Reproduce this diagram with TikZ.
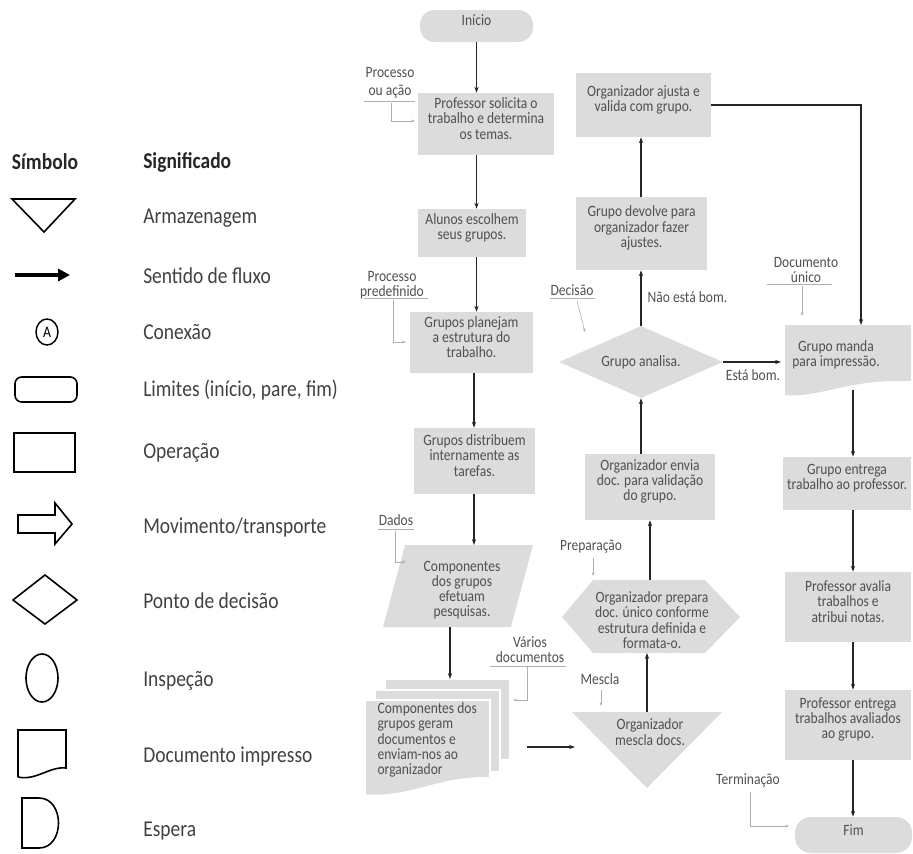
\documentclass[tikz,border=0pt]{standalone}
\usepackage{fontspec}
\setmainfont[FakeStretch=0.86]{Carlito}
\usetikzlibrary{arrows.meta,fit,shapes.geometric}
\definecolor{boxgray}{RGB}{220,220,220}
\definecolor{txtc}{RGB}{80,80,80}
\definecolor{legc}{RGB}{65,65,65}
\definecolor{annc}{RGB}{175,175,175}
\newcommand{\flowfont}{\fontsize{11.8}{11.4}\selectfont}
\newcommand{\legfont}{\fontsize{17}{18}\selectfont}
\tikzset{
  box/.style={fill=boxgray, draw=none, inner sep=0pt, text=txtc, font=\flowfont, align=center},
  lbl/.style={text=txtc, font=\flowfont, align=center, inner sep=1pt},
  arr/.style={draw=black!85, line width=0.8pt, -{Stealth[length=4.5pt,width=3.2pt]}},
  ann/.style={draw=annc, line width=0.45pt, -{Stealth[length=3pt,width=2.2pt]}},
  annl/.style={draw=annc, line width=0.45pt},
  legshape/.style={draw=black, line width=1.2pt},
  legtxt/.style={anchor=west, text=legc, font=\legfont, inner sep=0pt},
  leghead/.style={text=black!85, font=\legfont\bfseries, inner sep=0pt},
  docpart/.style={fill=boxgray, draw=white, line width=1.2pt}
}
\begin{document}
\begin{tikzpicture}[x=0.75pt,y=-0.75pt]
\useasboundingbox (0,0) rectangle (913,853);

% ---------------- Legend ----------------
\node[leghead] (hsym) at (45,162) {Símbolo};
\node[leghead, anchor=west] (hsig) at (143,162) {Significado};

\draw[legshape] (12,199) -- (75,199) -- (44,232) -- cycle;
\node[legtxt] (l1) at (143,218) {Armazenagem};

\coordinate (fa) at (15,275);
\coordinate (fb) at (70,275);
\draw[line width=2.3pt, -{Triangle[length=9pt,width=9pt]}] (fa) -- (fb);
\node[legtxt] (l2) at (143,276) {Sentido de fluxo};

\node[draw=black, line width=1.1pt, ellipse, minimum width=16.5pt, minimum height=19.5pt, inner sep=0pt, font=\fontsize{12}{12}\selectfont] (conA) at (47,332) {A};
\node[legtxt] (l3) at (143,332) {Conexão};

\draw[legshape, rounded corners=5pt] (15,377) rectangle (77,402);
\node[legtxt] (l4) at (143,390) {Limites (início, pare, fim)};

\draw[legshape] (14,433) rectangle (75,472);
\node[legtxt] (l5) at (143,453) {Operação};

\draw[legshape] (18,515) -- (55,515) -- (55,503) -- (72,524) -- (55,544) -- (55,533) -- (18,533) -- cycle;
\node[legtxt] (l6) at (143,527) {Movimento/transporte};

\draw[legshape] (13,600) -- (45,575) -- (77,600) -- (45,624) -- cycle;
\node[legtxt] (l7) at (143,601) {Ponto de decisão};

\draw[legshape] (42,678) ellipse [x radius=16, y radius=24];
\node[legtxt] (l8) at (143,681) {Inspeção};

\draw[legshape] (18,777) -- (18,730) -- (66,730) -- (66,768) .. controls (50,766) and (36,781) .. (18,777);
\node[legtxt] (l9) at (143,757) {Documento impresso};

\draw[legshape] (22,798) -- (39,798) .. controls (65,798) and (65,848) .. (39,848) -- (22,848) -- cycle;
\node[legtxt] (l10) at (143,831) {Espera};

% ---------------- Flowchart: left column ----------------
\node[box, fit={(420,10) (533,42)}, rounded corners=11pt] (ini) {Início};
\node[box, fit={(418,93) (554,155)}] (b1) {Professor solicita o\\trabalho e determina\\os temas.};
\node[box, fit={(418,209) (526,257)}] (b2) {Alunos escolhem\\seus grupos.};
\node[box, fit={(410,312) (533,373)}] (b3) {Grupos planejam\\a estrutura do\\trabalho.};
\node[box, fit={(414,428) (535,494)}] (b4) {Grupos distribuem\\internamente as\\tarefas.};

\fill[boxgray] (405,545) -- (533,545) -- (511,627) -- (383,627) -- cycle;
\node[lbl] (para) at (462,590) {Componentes\\dos grupos\\efetuam\\pesquisas.};
\coordinate (paraT) at (474,545);
\coordinate (paraB) at (450,627);

\draw[arr] (ini.south) -- (ini.south |- b1.north);
\draw[arr] (b1.south -| ini) -- (b2.north -| ini);
\draw[arr] (b2.south -| ini) -- (b3.north -| ini);
\draw[arr] (b3.south -| paraT) -- (b4.north -| paraT);
\draw[arr] (b4.south -| paraT) -- (paraT);

% multiple documents
\path[docpart] (385,679) -- (510,679) -- (510,760) .. controls (460,758) and (430,778) .. (385,776) -- cycle;
\path[docpart] (375,690) -- (500,690) -- (500,772) .. controls (450,770) and (420,790) .. (375,786) -- cycle;
\path[docpart] (365,700) -- (490,700) -- (490,778) .. controls (440,776) and (410,799) .. (365,795) -- cycle;
\node[lbl, align=left, anchor=west] (mdoc) at (376,740) {Componentes dos\\grupos geram\\documentos e\\enviam-nos ao\\organizador};
\coordinate (mdocT) at (450,679);
\coordinate (mdocR) at (527,747);
\draw[arr] (paraB) -- (mdocT);

% annotations left
\node[lbl] (apro) at (390,83) {Processo\\[2pt]ou ação};
\draw[annl] (364,101) -- (415,101);
\coordinate (aproE) at (415,121);
\draw[ann] (391,103) |- (aproE);

\node[lbl] (apre) at (392,285) {Processo\\predefinido};
\draw[annl] (364,298) -- (428,298);
\coordinate (apreE) at (406,342);
\draw[ann] (393,300) |- (apreE);

\node[lbl] (adad) at (396,520) {Dados};
\draw[annl] (378,529) -- (414,529);
\coordinate (adadE) at (406,562);
\draw[ann] (395,531) |- (adadE);

\node[lbl] (avar) at (530,650) {Vários\\documentos};
\draw[annl] (490,666) -- (566,666);
\coordinate (avarE) at (513,700);
\draw[ann] (527,667) |- (avarE);

% ---------------- Flowchart: middle column ----------------
\fill[boxgray] (572,712) -- (722,712) -- (647,788) -- cycle;
\node[lbl] (tri) at (650,732) {Organizador\\mescla docs.};
\coordinate (triT) at (647,712);
\coordinate (triL) at (575,747);
\draw[arr] (mdocR) -- (triL);

\fill[boxgray] (562,617) -- (593,580) -- (705,580) -- (740,617) -- (705,653) -- (593,653) -- cycle;
\node[lbl] (hex) at (652,620) {Organizador prepara\\doc. único conforme\\estrutura definida e\\formata-o.};
\coordinate (hexB) at (647,653);
\coordinate (hexT) at (650,580);
\draw[arr] (triT) -- (hexB);

\node[box, fit={(585,454) (715,520)}] (b5) {Organizador envia\\doc. para validação\\do grupo.};
\draw[arr] (hexT) -- (hexT |- b5.south);

\node[diamond, fill=boxgray, inner sep=0pt, aspect=2.3, minimum width=123pt, minimum height=54pt, text=txtc, font=\flowfont] (dia) at (641,362) {Grupo analisa.};
\draw[arr] (b5.north -| dia) -- (dia.south);

\node[box, fit={(576,197) (707,270)}] (b6) {Grupo devolve para\\organizador fazer\\ajustes.};
\draw[arr] (dia.north) -- (dia.north |- b6.south);
\node[lbl, anchor=west] (nbom) at (646,297) {Não está bom.};

\node[box, fit={(576,73) (711,137)}] (b7) {Organizador ajusta e\\valida com grupo.};
\draw[arr] (b6.north -| dia) -- (b7.south -| dia);

\node[lbl] (adec) at (572,290) {Decisão};
\draw[annl] (550,298) -- (595,298);
\coordinate (adecE) at (585,332);
\draw[ann] (577,301) -- (adecE);

\node[lbl] (aprep) at (591,547) {Preparação};
\coordinate (aprepE) at (593,576);
\draw[ann] (593,558) -- (aprepE);

\node[lbl] (ames) at (600,679) {Mescla};
\coordinate (amesE) at (601,706);
\draw[ann] (601,690) -- (amesE);

% ---------------- Flowchart: right column ----------------
\fill[boxgray] (785,325) -- (911,325) -- (911,381) .. controls (845,379) and (822,398) .. (785,395) -- cycle;
\node[lbl] (doc1) at (836,355) {Grupo manda\\para impressão.};
\coordinate (docT) at (861,325);
\coordinate (docL) at (781,362);
\coordinate (docB) at (853,390);

\draw[arr] (b7.east) -| (docT);
\draw[arr] (dia.east) -- (docL);
\node[lbl] (ebom) at (753,375) {Está bom.};

\node[lbl] (adoc) at (806,270) {Documento\\único};
\draw[annl] (767,284) -- (832,284);
\coordinate (adocE) at (802,316);
\draw[ann] (802,286) -- (adocE);

\node[box, fit={(783,457) (911,510)}] (b8) {Grupo entrega\\trabalho ao professor.};
\node[box, fit={(785,572) (911,642)}] (b9) {Professor avalia\\trabalhos e\\atribui notas.};
\node[box, fit={(785,690) (911,760)}] (b10) {Professor entrega\\trabalhos avaliados\\ao grupo.};
\node[box, fit={(795,817) (912,853)}, rounded corners=12pt] (fim) {Fim};

\draw[arr] (docB) -- (docB |- b8.north);
\draw[arr] (b8.south -| docB) -- (b9.north -| docB);
\draw[arr] (b9.south -| docB) -- (b10.north -| docB);
\draw[arr] (b10.south -| docB) -- (fim.north -| docB);

\node[lbl] (ater) at (748,780) {Terminação};
\coordinate (aterE) at (789,826);
\draw[ann] (750,792) |- (aterE);
\end{tikzpicture}
\end{document}
